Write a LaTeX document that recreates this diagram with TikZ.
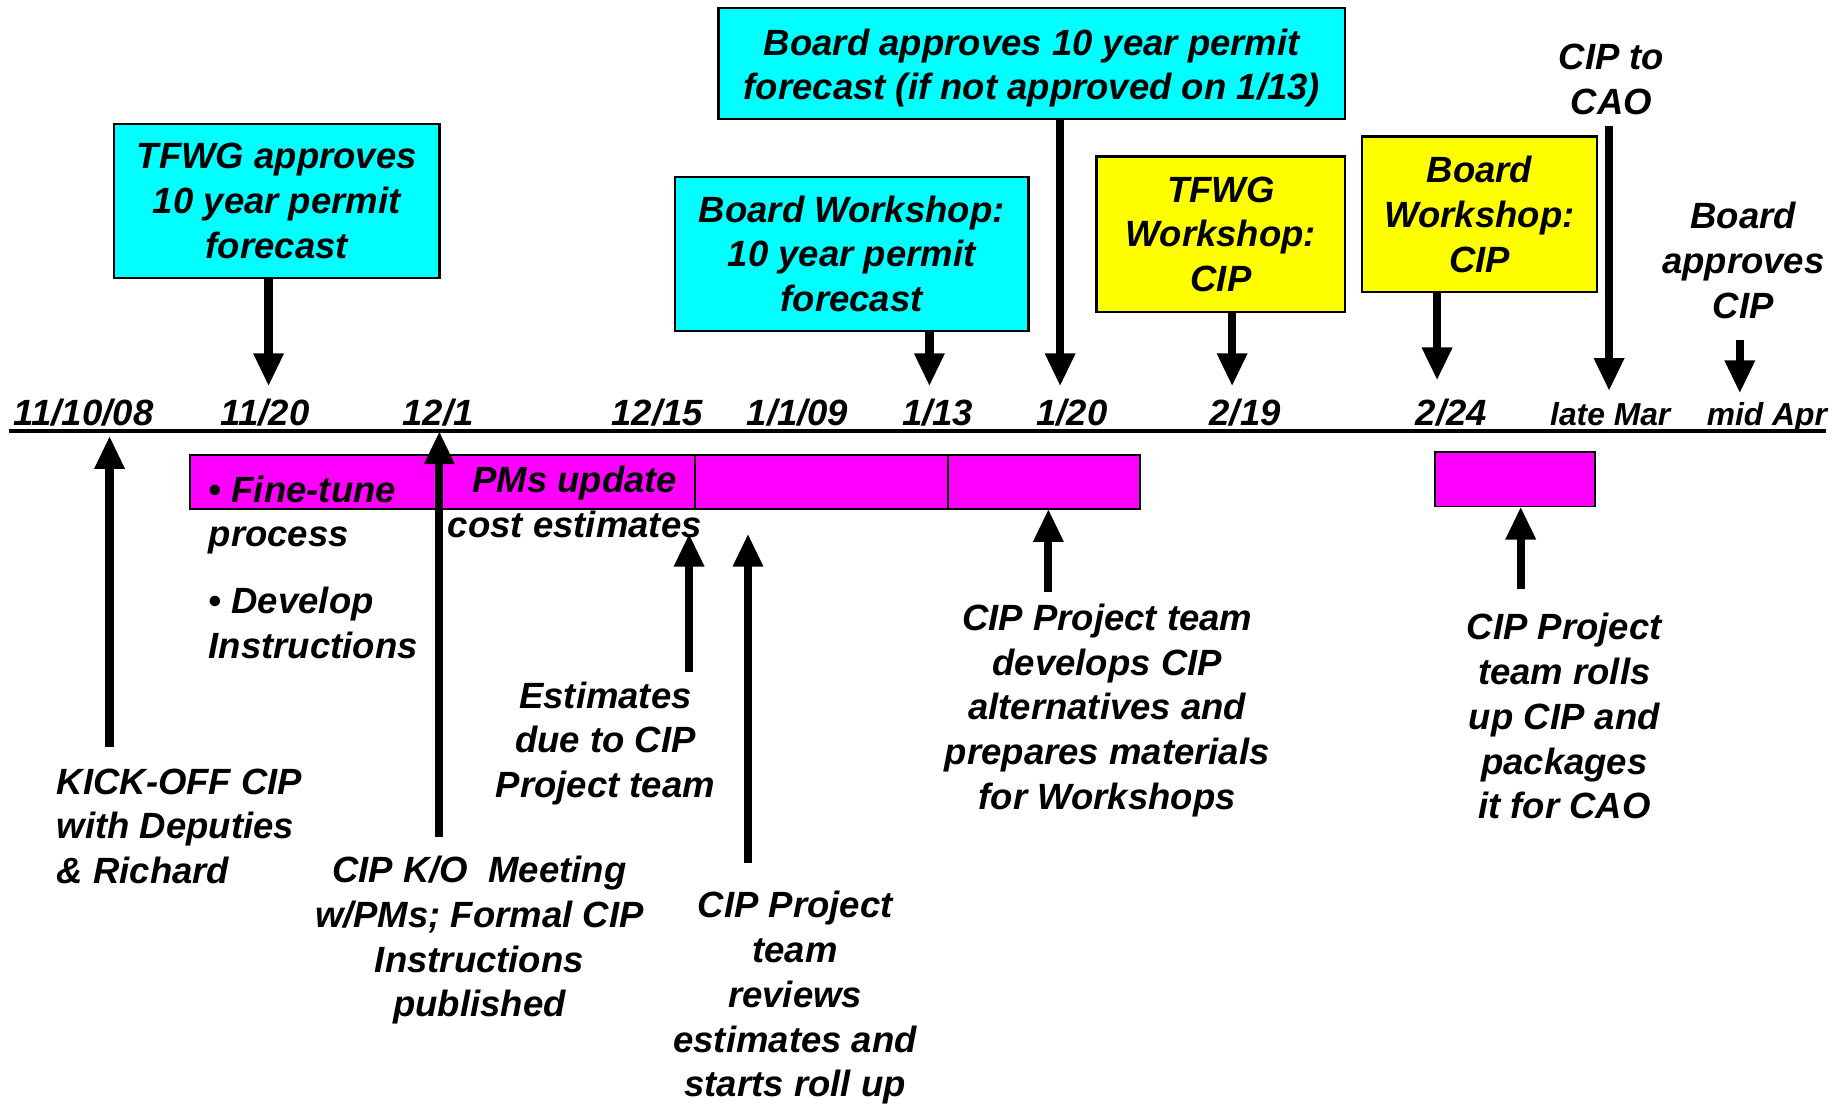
\documentclass[tikz,border=0pt]{standalone}
\usepackage{fontspec}
\setmainfont{Liberation Sans}
\usetikzlibrary{arrows.meta}
\definecolor{cy}{RGB}{0,255,255}
\definecolor{ye}{RGB}{255,255,0}
\definecolor{mg}{RGB}{255,0,255}
\tikzset{
 every node/.style={font=\fontsize{31}{38}\selectfont\bfseries\itshape},
 box/.style={draw=black, line width=2pt, align=center, inner sep=0pt},
 cbox/.style={box, fill=cy},
 ybox/.style={box, fill=ye},
 mbar/.style={draw=black, line width=1.5pt, fill=mg, inner sep=0pt},
 lbl/.style={align=center, inner sep=0pt, anchor=north},
 datelbl/.style={anchor=base, inner sep=0pt},
 smalldate/.style={datelbl, font=\fontsize{27}{32}\selectfont\bfseries\itshape},
 arr/.style={line width=7pt, -{Triangle[length=28pt,width=24pt]}},
}
\begin{document}
\begin{tikzpicture}[x=1pt,y=-1pt]
\useasboundingbox[fill=white] (0,0) rectangle (1568,937);

% magenta bars
\node[mbar, minimum width=429pt, minimum height=46pt] (bar1) at (375.5,409) {};
\node[mbar, minimum width=215pt, minimum height=46pt] (bar2) at (697.5,409) {};
\node[mbar, minimum width=163pt, minimum height=46pt] (bar3) at (886.5,409) {};
\node[mbar, minimum width=136pt, minimum height=46pt] (bar4) at (1286,407) {};

% timeline
\coordinate (tl0) at (8,366);
\coordinate (tl1) at (1550,366);
\draw[line width=3.5pt] (tl0) -- (tl1);

% dates
\node[datelbl] (d1) at (71,361) {11/10/08};
\node[datelbl] (d2) at (225,361) {11/20};
\node[datelbl] (d3) at (372,361) {12/1};
\node[datelbl] (d4) at (558,361) {12/15};
\node[datelbl] (d5) at (677,361) {1/1/09};
\node[datelbl] (d6) at (796,361) {1/13};
\node[datelbl] (d7) at (910,361) {1/20};
\node[datelbl] (d8) at (1057,361) {2/19};
\node[datelbl] (d9) at (1232,361) {2/24};
\node[smalldate] (d10) at (1367,361) {late Mar};
\node[smalldate] (d11) at (1500,361) {mid Apr};

% top boxes
\node[cbox, minimum width=276pt, minimum height=131pt] (tfwg) at (235,170.5) {TFWG approves\\10 year permit\\forecast};
\node[cbox, minimum width=300pt, minimum height=131pt] (bws) at (723,215.5) {Board Workshop:\\10 year permit\\forecast};
\node[cbox, minimum width=532pt, minimum height=94pt] (bap) at (876,54) {\rule{0pt}{30pt}Board approves 10 year permit\\forecast (if not approved on 1/13)};
\node[ybox, minimum width=211pt, minimum height=132pt] (tws) at (1036.5,199) {TFWG\\Workshop:\\CIP};
\node[ybox, minimum width=200pt, minimum height=132pt] (bwc) at (1256,182) {Board\\Workshop:\\CIP};
\node[lbl] (cao) at (1368,32.4) {\strut CIP to\\CAO};
\node[lbl] (bac) at (1480,167.4) {\strut Board\\approves\\CIP};

% bar texts
\node[lbl, anchor=north west, align=left] (fine) at (177,399.4) {\strut • Fine-tune\\process\\[19pt]• Develop\\Instructions};
\node[lbl] (pms) at (488,391.4) {\strut PMs update\\cost estimates};

% lower texts
\node[lbl, anchor=north west, align=left] (kick) at (48,647.4) {\strut KICK-OFF CIP\\with Deputies\\\& Richard};
\node[lbl] (ko) at (407,722.4) {\strut CIP K/O~~Meeting\\w/PMs; Formal CIP\\Instructions\\published};
\node[lbl] (est) at (514,574.4) {\strut Estimates\\due to CIP\\Project team};
\node[lbl] (rev) at (675,752.4) {\strut CIP Project\\team\\reviews\\estimates and\\starts roll up};
\node[lbl] (dev) at (940,508.4) {\strut CIP Project team\\develops CIP\\alternatives and\\prepares materials\\for Workshops};
\node[lbl] (roll) at (1328,516.4) {\strut CIP Project\\team rolls\\up CIP and\\packages\\it for CAO};

% downward arrows
\coordinate (p1) at (228,328);
\coordinate (p2) at (789,328);
\coordinate (p3) at (900,328);
\coordinate (p4) at (1046,328);
\coordinate (p5) at (1220,323);
\coordinate (p6) at (1366,332);
\coordinate (p7) at (1477,334);
\draw[arr] (tfwg.south -| p1) -- (p1);
\draw[arr] (bws.south -| p2) -- (p2);
\draw[arr] (bap.south -| p3) -- (p3);
\draw[arr] (tws.south -| p4) -- (p4);
\draw[arr] (bwc.south -| p5) -- (p5);
\draw[arr, shorten <=9pt] (cao.south -| p6) -- (p6);
\draw[arr, shorten <=18pt] (bac.south -| p7) -- (p7);

% upward arrows
\coordinate (q1) at (93,370);
\coordinate (q2) at (373,366);
\coordinate (q3) at (585,453);
\coordinate (q4) at (635,453);
\coordinate (q5) at (890,432);
\coordinate (q6) at (1291,430);
\draw[arr, shorten <=13pt] (kick.north -| q1) -- (q1);
\draw[arr, shorten <=12pt] (ko.north -| q2) -- (q2);
\draw[arr, shorten <=4pt] (est.north -| q3) -- (q3);
\draw[arr, shorten <=20pt] (rev.north -| q4) -- (q4);
\draw[arr, shorten <=6pt] (dev.north -| q5) -- (q5);
\draw[arr, shorten <=16pt] (roll.north -| q6) -- (q6);
\end{tikzpicture}
\end{document}
